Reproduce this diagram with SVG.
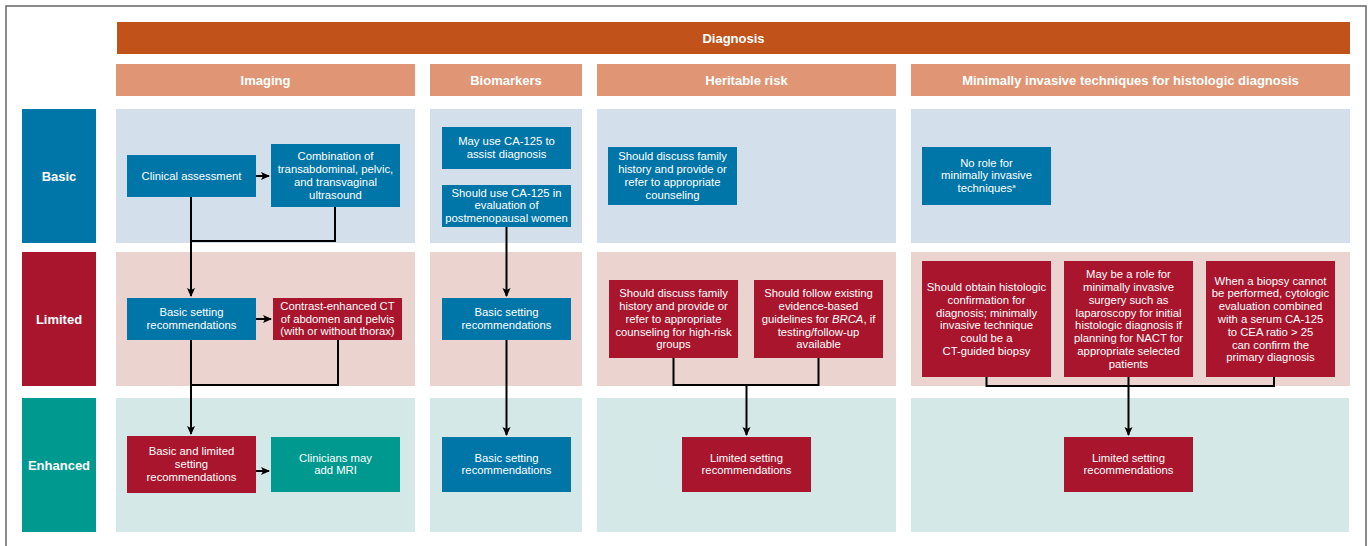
<svg xmlns="http://www.w3.org/2000/svg" width="1371" height="546" viewBox="0 0 1371 546">
<defs>
<style>
.bar{fill:#C0521A}
.hdr{fill:#E09674}
.pb{fill:#D3DFEB}.pl{fill:#EBD3CF}.pe{fill:#D4E9E7}
.blue{fill:#0076A8}.red{fill:#A8152D}.teal{fill:#00998F}
text{font-family:"Liberation Sans",Arial,sans-serif;fill:#fff;text-anchor:middle}
.t{font-size:11.3px}
.h{font-size:13px;font-weight:bold}
.c{fill:none;stroke:#000;stroke-width:2}
</style>
<marker id="ah" markerUnits="userSpaceOnUse" markerWidth="10" markerHeight="10" refX="8" refY="4" orient="auto">
<path d="M0,0 L9,4 L0,8 L2,4 z" fill="#000"/>
</marker>
</defs>
<rect width="1371" height="546" fill="#fff"/>
<rect x="6" y="6" width="1360" height="570" fill="none" stroke="#666" stroke-width="1.5"/>

<g id="header">
<rect class="bar" x="117" y="22" width="1233" height="32"/>
<text class="h" x="733.5" y="42.5">Diagnosis</text>
</g>
<g id="col-imaging"><rect class="hdr" x="116" y="64" width="299" height="32"/><text class="h" x="265.5" y="84.5">Imaging</text></g>
<g id="col-biomarkers"><rect class="hdr" x="430" y="64" width="152" height="32"/><text class="h" x="506" y="84.5">Biomarkers</text></g>
<g id="col-heritable"><rect class="hdr" x="597" y="64" width="299" height="32"/><text class="h" x="746.5" y="84.5">Heritable risk</text></g>
<g id="col-minimally"><rect class="hdr" x="911" y="64" width="439" height="32"/><text class="h" x="1130.5" y="84.5">Minimally invasive techniques for histologic diagnosis</text></g>

<g id="row-basic"><rect class="blue" x="22" y="109" width="74" height="134"/><text class="h" x="59" y="180.5">Basic</text></g>
<g id="row-limited"><rect class="red" x="22" y="252" width="74" height="134"/><text class="h" x="59" y="323.5">Limited</text></g>
<g id="row-enhanced"><rect class="teal" x="22" y="398" width="74" height="134"/><text class="h" x="59" y="469.5">Enhanced</text></g>

<g id="panels">
<rect class="pb" x="116" y="109" width="299" height="134"/>
<rect class="pb" x="430" y="109" width="152" height="134"/>
<rect class="pb" x="597" y="109" width="299" height="134"/>
<rect class="pb" x="911" y="109" width="439" height="134"/>
<rect class="pl" x="116" y="252" width="299" height="134"/>
<rect class="pl" x="430" y="252" width="152" height="134"/>
<rect class="pl" x="597" y="252" width="299" height="134"/>
<rect class="pl" x="911" y="252" width="439" height="134"/>
<rect class="pe" x="116" y="398" width="299" height="134"/>
<rect class="pe" x="430" y="398" width="152" height="134"/>
<rect class="pe" x="597" y="398" width="299" height="134"/>
<rect class="pe" x="911" y="398" width="438" height="134"/>
</g>

<g id="connectors">
<path class="c" d="M256,176 H269" marker-end="url(#ah)"/>
<path class="c" d="M191,197 V296" marker-end="url(#ah)"/>
<path class="c" d="M335,207 V241 H191"/>
<path class="c" d="M256,319 H271" marker-end="url(#ah)"/>
<path class="c" d="M191,340 V434" marker-end="url(#ah)"/>
<path class="c" d="M338,340 V385 H191"/>
<path class="c" d="M256,471 H269" marker-end="url(#ah)"/>
<path class="c" d="M506.5,227 V296" marker-end="url(#ah)"/>
<path class="c" d="M506.5,340 V435" marker-end="url(#ah)"/>
<path class="c" d="M673.5,358 V385 H818.5 V358"/>
<path class="c" d="M746.5,385 V435" marker-end="url(#ah)"/>
<path class="c" d="M986.5,377 V386 H1274 V377"/>
<path class="c" d="M1128.5,377 V435" marker-end="url(#ah)"/>
</g>

<g id="n-clinical"><rect class="blue" x="127" y="155" width="129" height="42"/>
<text class="t" x="191.5" y="179.5">Clinical assessment</text></g>
<g id="n-ultrasound"><rect class="blue" x="271" y="144" width="129" height="63"/>
<text class="t"><tspan x="335.5" y="160.2">Combination of</tspan><tspan x="335.5" y="173">transabdominal, pelvic,</tspan><tspan x="335.5" y="185.8">and transvaginal</tspan><tspan x="335.5" y="198.6">ultrasound</tspan></text></g>
<g id="n-ca125-may"><rect class="blue" x="442" y="127" width="129" height="42"/>
<text class="t"><tspan x="506.5" y="145.3">May use CA-125 to</tspan><tspan x="506.5" y="158.1">assist diagnosis</tspan></text></g>
<g id="n-ca125-should"><rect class="blue" x="442" y="185" width="129" height="42"/>
<text class="t"><tspan x="506.5" y="196.5">Should use CA-125 in</tspan><tspan x="506.5" y="209.3">evaluation of</tspan><tspan x="506.5" y="222.1">postmenopausal women</tspan></text></g>
<g id="n-heritable-basic"><rect class="blue" x="608" y="147" width="129" height="58"/>
<text class="t"><tspan x="672.5" y="160.2">Should discuss family</tspan><tspan x="672.5" y="173">history and provide or</tspan><tspan x="672.5" y="185.8">refer to appropriate</tspan><tspan x="672.5" y="198.6">counseling</tspan></text></g>
<g id="n-norole"><rect class="blue" x="922" y="147" width="129" height="58"/>
<text class="t"><tspan x="986.5" y="166.5">No role for</tspan><tspan x="986.5" y="179.3">minimally invasive</tspan><tspan x="986.5" y="192.1">techniques<tspan font-size="6" dy="-4">a</tspan></tspan></text></g>

<g id="n-img-limited-basic"><rect class="blue" x="127" y="298" width="129" height="42"/>
<text class="t"><tspan x="191.5" y="316.3">Basic setting</tspan><tspan x="191.5" y="329.1">recommendations</tspan></text></g>
<g id="n-ct"><rect class="red" x="273" y="298" width="129" height="42"/>
<text class="t"><tspan x="337.5" y="310">Contrast-enhanced CT</tspan><tspan x="337.5" y="322.6">of abdomen and pelvis</tspan><tspan x="337.5" y="335.2">(with or without thorax)</tspan></text></g>
<g id="n-bio-limited"><rect class="blue" x="442" y="298" width="129" height="42"/>
<text class="t"><tspan x="506.5" y="316.3">Basic setting</tspan><tspan x="506.5" y="329.1">recommendations</tspan></text></g>
<g id="n-her-limited-1"><rect class="red" x="609" y="280" width="129" height="78"/>
<text class="t"><tspan x="673.5" y="297.2">Should discuss family</tspan><tspan x="673.5" y="310">history and provide or</tspan><tspan x="673.5" y="322.8">refer to appropriate</tspan><tspan x="673.5" y="335.6">counseling for high-risk</tspan><tspan x="673.5" y="348.4">groups</tspan></text></g>
<g id="n-her-limited-2"><rect class="red" x="754" y="280" width="129" height="78"/>
<text class="t"><tspan x="818.5" y="297.2">Should follow existing</tspan><tspan x="818.5" y="310">evidence-based</tspan><tspan x="818.5" y="322.8">guidelines for <tspan font-style="italic">BRCA</tspan>, if</tspan><tspan x="818.5" y="335.6">testing/follow-up</tspan><tspan x="818.5" y="348.4">available</tspan></text></g>
<g id="n-min-1"><rect class="red" x="922" y="261" width="129" height="116"/>
<text class="t"><tspan x="986.5" y="290.9">Should obtain histologic</tspan><tspan x="986.5" y="303.7">confirmation for</tspan><tspan x="986.5" y="316.5">diagnosis; minimally</tspan><tspan x="986.5" y="329.3">invasive technique</tspan><tspan x="986.5" y="342.1">could be a</tspan><tspan x="986.5" y="354.9">CT-guided biopsy</tspan></text></g>
<g id="n-min-2"><rect class="red" x="1064" y="261" width="129" height="116"/>
<text class="t"><tspan x="1128.5" y="278.1">May be a role for</tspan><tspan x="1128.5" y="290.9">minimally invasive</tspan><tspan x="1128.5" y="303.7">surgery such as</tspan><tspan x="1128.5" y="316.5">laparoscopy for initial</tspan><tspan x="1128.5" y="329.3">histologic diagnosis if</tspan><tspan x="1128.5" y="342.1">planning for NACT for</tspan><tspan x="1128.5" y="354.9">appropriate selected</tspan><tspan x="1128.5" y="367.7">patients</tspan></text></g>
<g id="n-min-3"><rect class="red" x="1206" y="261" width="129" height="116"/>
<text class="t"><tspan x="1270.5" y="284.5">When a biopsy cannot</tspan><tspan x="1270.5" y="297.3">be performed, cytologic</tspan><tspan x="1270.5" y="310.1">evaluation combined</tspan><tspan x="1270.5" y="322.9">with a serum CA-125</tspan><tspan x="1270.5" y="335.7">to CEA ratio &gt; 25</tspan><tspan x="1270.5" y="348.5">can confirm the</tspan><tspan x="1270.5" y="361.3">primary diagnosis</tspan></text></g>

<g id="n-img-enh-1"><rect class="red" x="127" y="436" width="129" height="57"/>
<text class="t"><tspan x="191.5" y="455.3">Basic and limited</tspan><tspan x="191.5" y="468.1">setting</tspan><tspan x="191.5" y="480.9">recommendations</tspan></text></g>
<g id="n-mri"><rect class="teal" x="271" y="437" width="129" height="55"/>
<text class="t"><tspan x="335.5" y="461.5">Clinicians may</tspan><tspan x="335.5" y="474.3">add MRI</tspan></text></g>
<g id="n-bio-enh"><rect class="blue" x="442" y="437" width="129" height="55"/>
<text class="t"><tspan x="506.5" y="461.5">Basic setting</tspan><tspan x="506.5" y="474.3">recommendations</tspan></text></g>
<g id="n-her-enh"><rect class="red" x="682" y="437" width="129" height="55"/>
<text class="t"><tspan x="746.5" y="461.5">Limited setting</tspan><tspan x="746.5" y="474.3">recommendations</tspan></text></g>
<g id="n-min-enh"><rect class="red" x="1064" y="437" width="129" height="55"/>
<text class="t"><tspan x="1128.5" y="461.5">Limited setting</tspan><tspan x="1128.5" y="474.3">recommendations</tspan></text></g>
</svg>
